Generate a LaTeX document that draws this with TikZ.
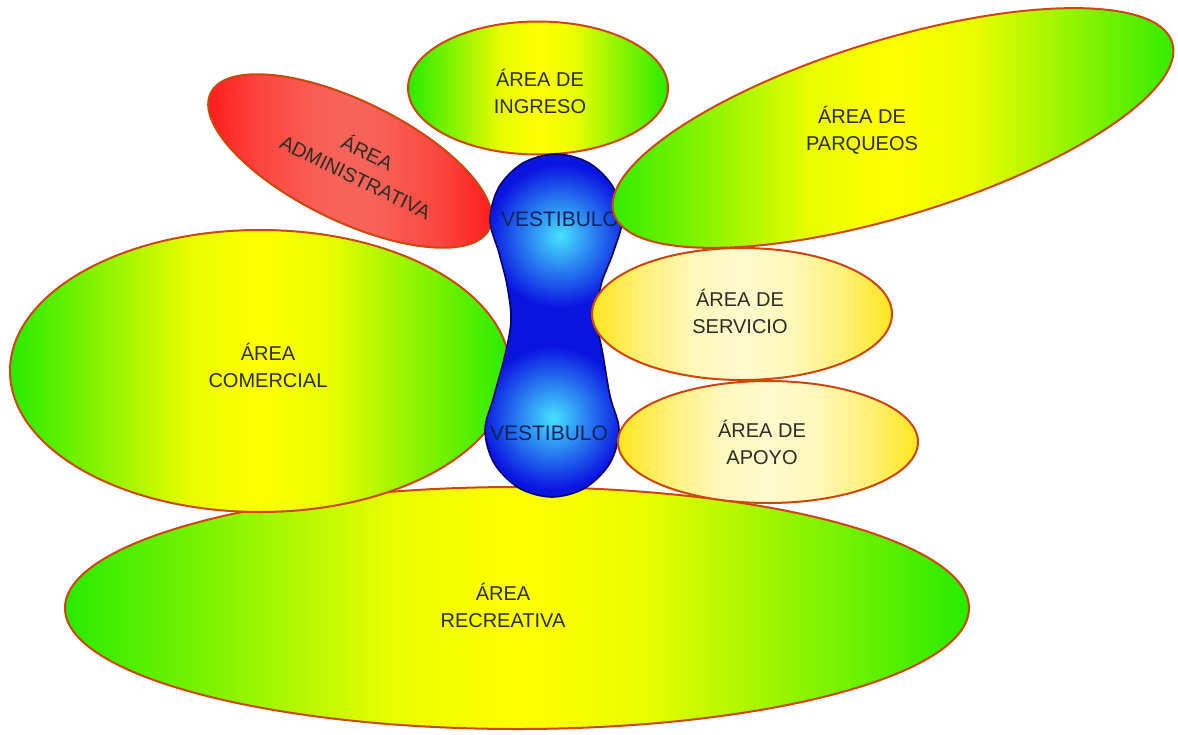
\documentclass[tikz,border=0pt]{standalone}
\usepackage{fontspec}
\setmainfont{Liberation Sans}
\usetikzlibrary{shapes.geometric}
\definecolor{edge}{RGB}{205,70,10}
\definecolor{lgreen}{RGB}{40,235,0}
\definecolor{lyellow}{RGB}{255,255,0}
\definecolor{pyellow}{RGB}{255,230,30}
\definecolor{pale}{RGB}{255,250,205}
\definecolor{dred}{RGB}{255,20,20}
\definecolor{salmon}{RGB}{248,100,90}
\definecolor{vblue}{RGB}{10,20,225}
\definecolor{vdark}{RGB}{0,0,110}
\definecolor{vcyan}{RGB}{70,225,255}
\definecolor{txt}{RGB}{45,45,35}
\definecolor{vtxt}{RGB}{10,35,95}
\pgfdeclarehorizontalshading{gyshade}{100bp}{color(0bp)=(lgreen); color(25bp)=(lgreen); color(34bp)=(lyellow!45!lgreen); color(43bp)=(lyellow!90!lgreen); color(50bp)=(lyellow); color(57bp)=(lyellow!90!lgreen); color(66bp)=(lyellow!45!lgreen); color(75bp)=(lgreen); color(100bp)=(lgreen)}
\pgfdeclarehorizontalshading{pyshade}{100bp}{color(0bp)=(pyellow); color(25bp)=(pyellow); color(33bp)=(pale!50!pyellow); color(42bp)=(pale!90!pyellow); color(50bp)=(pale); color(58bp)=(pale!90!pyellow); color(67bp)=(pale!50!pyellow); color(75bp)=(pyellow); color(100bp)=(pyellow)}
\pgfdeclarehorizontalshading{rdshade}{100bp}{color(0bp)=(dred); color(25bp)=(dred); color(35bp)=(salmon!60!dred); color(45bp)=(salmon!95!dred); color(50bp)=(salmon); color(55bp)=(salmon!95!dred); color(65bp)=(salmon!60!dred); color(75bp)=(dred); color(100bp)=(dred)}
\begin{document}
\begin{tikzpicture}[x=0.5pt,y=-0.5pt,
  area/.style={ellipse, draw=edge, line width=1pt, inner sep=0pt},
  gy/.style={area, shading=gyshade},
  py/.style={area, shading=pyshade},
  rd/.style={area, shading=rdshade},
  lbl/.style={font=\fontsize{10}{13.5}\selectfont, text=txt, align=center, inner sep=0pt},
  vlbl/.style={font=\fontsize{10.5}{12}\selectfont, text=vtxt, inner sep=0pt},
  peanut/.style={vdark, line width=0.8pt}]
\useasboundingbox (0,0) rectangle (1178,734);
\fill[white] (0,0) rectangle (1178,734);
% areas
\node[gy, minimum width=452pt, minimum height=121pt] (recr) at (517,608) {};
\node[gy, minimum width=250pt, minimum height=141pt] (comer) at (260,371) {};
\node[rd, minimum width=155pt, minimum height=60pt, rotate=-26] (admin) at (350,161) {};
\node[gy, minimum width=130pt, minimum height=66.5pt] (ingr) at (538,88) {};
% vestibulo
\def\peanutpath{plot[smooth cycle, tension=0.55] coordinates {(556,154) (589,163) (613,187) (622,220) (613,253) (601,285) (597,320) (603,355) (610,396) (619,430) (610,463) (585,488) (552,497) (519,488) (494,463) (485,430) (494,396) (505,355) (511,320) (507,285) (499,253) (490,220) (499,187) (523,163)}}
\fill[vblue] \peanutpath;
\begin{scope}
  \clip \peanutpath;
  \shade[inner color=vcyan, outer color=vblue] (560,236) circle[radius=72];
  \shade[inner color=vcyan, outer color=vblue] (553,418) circle[radius=72];
\end{scope}
\draw[peanut] \peanutpath;
\node[vlbl] (vest1) at (560,219) {VESTIBULO};
\node[vlbl] (vest2) at (549,433) {VESTIBULO};
\node[py, minimum width=150pt, minimum height=66pt] (serv) at (742,314) {};
\node[py, minimum width=150pt, minimum height=61pt] (apoyo) at (768,442) {};
\node[gy, minimum width=292pt, minimum height=88pt, rotate=17] (parq) at (893,128) {};
% labels
\node[lbl] (tingr) at (540,91) {ÁREA DE\\INGRESO};
\node[lbl, rotate=-26] (tadmin) at (362,164) {ÁREA\\ADMINISTRATIVA};
\node[lbl] (tparq) at (862,130) {ÁREA DE\\PARQUEOS};
\node[lbl] (tcomer) at (268,365) {ÁREA\\COMERCIAL};
\node[lbl] (tserv) at (740,311) {ÁREA DE\\SERVICIO};
\node[lbl] (tapoyo) at (762,442) {ÁREA DE\\APOYO};
\node[lbl] (trecr) at (503,605) {ÁREA\\RECREATIVA};
\end{tikzpicture}
\end{document}
